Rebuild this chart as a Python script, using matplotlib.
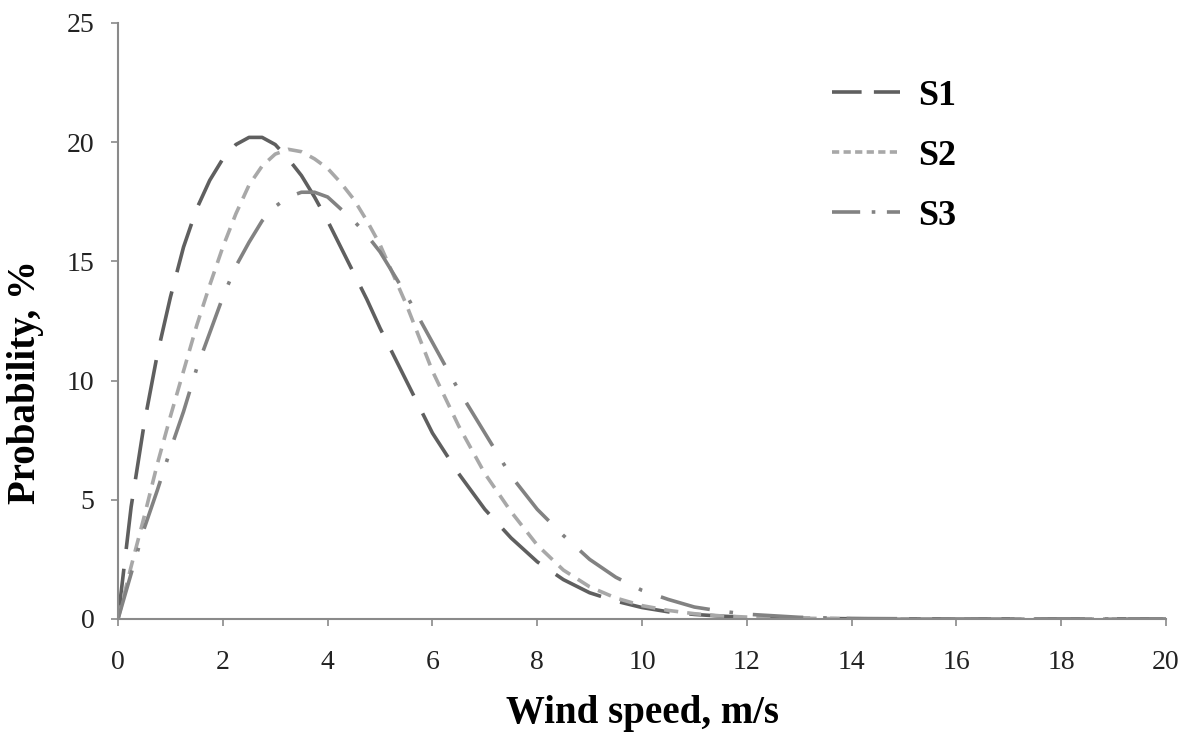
import matplotlib
matplotlib.use('Agg')
import matplotlib.pyplot as plt
from matplotlib.lines import Line2D

# wind speed grid, m/s
wind_speed = [0, 0.25, 0.5, 0.75, 1, 1.25, 1.5, 1.75, 2, 2.25, 2.5, 2.75, 3,
              3.25, 3.5, 3.75, 4, 4.25, 4.5, 4.75, 5,
              5.5, 6, 6.5, 7, 7.5, 8, 8.5, 9, 9.5, 10, 10.5, 11, 11.5, 12,
              13, 14, 15, 16, 17, 18, 19, 20]

# probability, %
s1 = [0, 4.7, 8.2, 11.1, 13.5, 15.6, 17.2, 18.4, 19.3, 19.9, 20.2, 20.2, 19.9,
      19.3, 18.6, 17.7, 16.7, 15.6, 14.5, 13.4, 12.2,
      10.0, 7.8, 6.1, 4.6, 3.4, 2.4, 1.65, 1.1, 0.75, 0.48, 0.3, 0.19, 0.12, 0.07,
      0.03, 0.01, 0, 0, 0, 0, 0, 0]
s2 = [0, 2.2, 4.3, 6.5, 8.5, 10.4, 12.3, 14.0, 15.6, 17.0, 18.2, 19.0, 19.5,
      19.7, 19.6, 19.3, 18.9, 18.3, 17.6, 16.7, 15.7,
      13.2, 10.4, 8.1, 6.1, 4.5, 3.1, 2.05, 1.35, 0.88, 0.56, 0.36, 0.22, 0.13, 0.08,
      0.03, 0.01, 0, 0, 0, 0, 0, 0]
s3 = [0, 1.9, 3.8, 5.4, 7.1, 8.7, 10.5, 12.0, 13.5, 14.8, 15.8, 16.7, 17.3,
      17.7, 17.9, 17.9, 17.7, 17.2, 16.7, 16.1, 15.4,
      13.6, 11.6, 9.6, 7.8, 6.0, 4.6, 3.5, 2.5, 1.75, 1.2, 0.82, 0.5, 0.33, 0.2,
      0.07, 0.02, 0.01, 0, 0, 0, 0, 0]

series_names = ['S1', 'S2', 'S3']
x_ticks = [0, 2, 4, 6, 8, 10, 12, 14, 16, 18, 20]
y_ticks = [0, 5, 10, 15, 20, 25]

plt.rcParams['font.family'] = ['Liberation Serif', 'DejaVu Serif']

fig = plt.figure(figsize=(11.85, 7.36), dpi=100)
ax = fig.add_axes([0.0996, 0.159, 0.8844, 0.8098])

lw = 2.6
colors = ['#5f5f5f', '#a8a8a8', '#828282']
styles = [(0, (14, 5.5)), (0, (3.9, 2.5)), (0, (14, 5.5, 1, 5.5))]
# legend swatches use shorter dashes, like the original
leg_styles = [(0, (8.2, 3.4)), (0, (2.0, 1.2)), (0, (7.8, 3.2, 1, 3.2))]

for ys, name, c, ls in zip([s1, s2, s3], series_names, colors, styles):
    ax.plot(wind_speed, ys, color=c, lw=lw, linestyle=ls, label=name)

ax.set_xlim(0, 20)
ax.set_ylim(0, 25)
ax.set_xticks(x_ticks)
ax.set_yticks(y_ticks)

for side in ['top', 'right']:
    ax.spines[side].set_visible(False)
for side in ['left', 'bottom']:
    ax.spines[side].set_color('#8a8a8a')
    ax.spines[side].set_linewidth(1.5)

ax.tick_params(axis='both', direction='out', length=5, width=1.2, color='#8a8a8a',
               labelsize=20, labelcolor='#222222')
ax.tick_params(axis='x', pad=17)
ax.tick_params(axis='y', pad=12)

ax.set_xlabel('Wind speed, m/s', fontsize=28, fontweight='bold', labelpad=15)
ax.set_ylabel('Probability, %', fontsize=28, fontweight='bold')
ax.yaxis.set_label_coords(-0.0706, 0.398)

handles = [Line2D([], [], color=c, lw=lw, linestyle=ls) for c, ls in zip(colors, leg_styles)]
leg = ax.legend(handles, series_names, loc='upper left', bbox_to_anchor=(0.681, 0.905),
                frameon=False, fontsize=26, handlelength=1.9, labelspacing=0.74,
                handletextpad=0.5, borderpad=0, borderaxespad=0)
for t in leg.get_texts():
    t.set_fontweight('bold')

fig.savefig('out.png', dpi=100, facecolor='white')
